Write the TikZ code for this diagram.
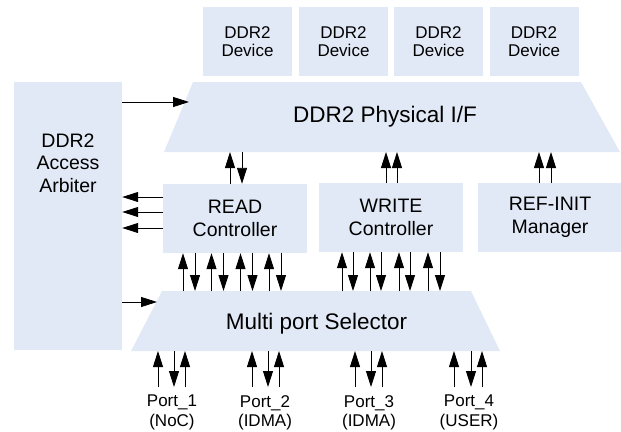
\documentclass[tikz,border=0pt]{standalone}
\usepackage{fontspec}
\setmainfont{Liberation Sans}
\usetikzlibrary{arrows.meta}
\definecolor{ddrfill}{RGB}{226,233,246}
\tikzset{
  blk/.style={fill=ddrfill, inner sep=0pt},
  lbl/.style={align=center, font=\fontsize{19.5}{22.5}\selectfont},
  big/.style={font=\fontsize{22.5}{26}\selectfont},
  sig/.style={-{Triangle[length=16pt,width=10pt]}, line width=0.9pt},
}

\begin{document}
\begin{tikzpicture}[x=1pt,y=-1pt]
\useasboundingbox (0,0) rectangle (621,431);

% devices
\foreach \i/\x in {1/247.5,2/343.5,3/438.5,4/534}
  \node[blk, minimum width=89pt, minimum height=69pt, align=center, font=\fontsize{17}{18.5}\selectfont] (dev\i) at (\x,41.5) {DDR2\\Device};

% physical interface
\fill[ddrfill] (193,82) -- (581,82) -- (620,152) -- (164,152) coordinate (phy-sw) -- cycle;
\coordinate (phy-in) at (189,102);
\node[big] (phy) at (385,117) {DDR2 Physical I/F};

% arbiter
\node[blk, minimum width=108pt, minimum height=268pt] (arb) at (68,216) {};
\node[lbl] (arbtxt) at (68,163) {DDR2\\Access\\Arbiter};

% controllers
\node[blk, lbl, minimum width=144pt, minimum height=69pt] (rd) at (235,218.5) {READ\\Controller};
\node[blk, lbl, minimum width=144pt, minimum height=69pt] (wr) at (391,217.5) {WRITE\\Controller};
\node[blk, lbl, minimum width=144pt, minimum height=69pt] (ref) at (550,217.5) {REF-INIT\\Manager};

% selector
\fill[ddrfill] (162,291) coordinate (mps-nw) -- (471,291) -- (500,351) -- (131,351) coordinate (mps-sw) -- cycle;
\coordinate (mps-in) at (157,302);
\node[big] (mps) at (316.5,324) {Multi port Selector};

% ports
\foreach \i/\x/\t in {1/172/NoC,2/265/IDMA,3/369/IDMA,4/469/USER}
  \node[anchor=north, align=center, inner ysep=8pt, font=\fontsize{17}{19.3}\selectfont] (port\i) at (\x,387) {Port\_\i\\(\t)};

% arbiter links
\draw[sig] (arb.east |- phy-in) -- (phy-in);
\draw[sig] (arb.east |- mps-in) -- (mps-in);
\foreach \y in {197,212,228}
  \draw[sig] (rd.west |- 0,\y) -- (arb.east |- 0,\y);

% controllers to physical
\draw[sig] (rd.north -| 230,0) -- (phy-sw -| 230,0);
\draw[sig] (phy-sw -| 242,0) -- (rd.north -| 242,0);
\foreach \x in {386,397}
  \draw[sig] (wr.north -| \x,0) -- (phy-sw -| \x,0);
\foreach \x in {539,551}
  \draw[sig] (ref.north -| \x,0) -- (phy-sw -| \x,0);

% selector to controllers
\foreach \u/\d in {183/195,211.5/223.5,240.5/252.5,269/281}{
  \draw[sig] (mps-nw -| \u,0) -- (rd.south -| \u,0);
  \draw[sig] (rd.south -| \d,0) -- (mps-nw -| \d,0);
}
\foreach \u/\d in {342/353,370/381,399/410,428/440}{
  \draw[sig] (mps-nw -| \u,0) -- (wr.south -| \u,0);
  \draw[sig] (wr.south -| \d,0) -- (mps-nw -| \d,0);
}

% ports to selector
\foreach \i/\a/\b/\c in {1/158/174/185,2/252/268/279,3/355/371/382,4/454/471/482}{
  \draw[sig] (port\i.north -| \a,0) -- (mps-sw -| \a,0);
  \draw[sig] (mps-sw -| \b,0) -- (port\i.north -| \b,0);
  \draw[sig] (port\i.north -| \c,0) -- (mps-sw -| \c,0);
}
\end{tikzpicture}
\end{document}
